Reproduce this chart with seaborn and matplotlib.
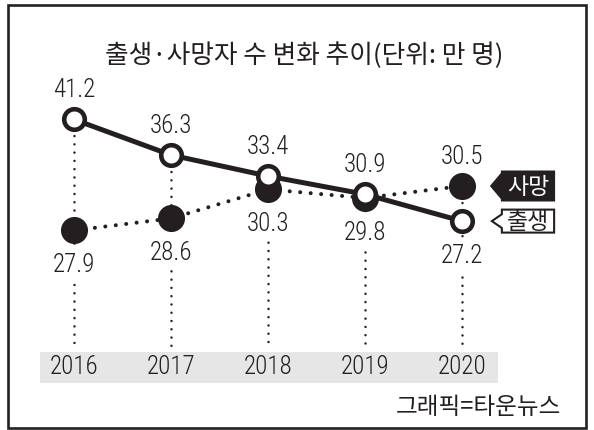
import matplotlib
matplotlib.use("Agg")
import matplotlib.pyplot as plt
import seaborn as sns
import pandas as pd
from matplotlib.path import Path
from matplotlib.patches import Rectangle
from matplotlib import font_manager as fm

# ---------------- data ----------------
years = [2016, 2017, 2018, 2019, 2020]
births = [41.2, 36.3, 33.4, 30.9, 27.2]   # 출생 (만 명)
deaths = [27.9, 28.6, 30.3, 29.8, 30.5]   # 사망 (만 명)
year_labels = ["2016", "2017", "2018", "2019", "2020"]
title = "출생·사망자 수 변화 추이(단위: 만 명)"
birth_name = "출생"
death_name = "사망"
credit = "그래픽=타운뉴스"

# ---------------- style ----------------
INK = "#231f20"
BAND = "#e6e6e6"
W, H = 594, 431
KR = ["Noto Sans CJK KR", "DejaVu Sans"]
names = {f.name for f in fm.fontManager.ttflist}
NUM = next((n for n in ["Liberation Sans Narrow", "Roboto Condensed", "Liberation Sans"]
            if n in names), "DejaVu Sans")
NUM_W = "light"

sns.set_style("white")
plt.rcParams["font.family"] = KR

df = pd.DataFrame({"year": years, "births": births, "deaths": deaths})

fig = plt.figure(figsize=(W / 100, H / 100), dpi=100)
ax = fig.add_axes([0, 0, 1, 1])      # deaths scale (drawn below)
ax2 = ax.twinx()                      # births scale (drawn above)

sns.lineplot(data=df, x="year", y="deaths", ax=ax, color=INK, lw=2.9,
             linestyle=(0, (0.01, 2.6)), dash_capstyle="round",
             marker="o", markersize=19.5, markerfacecolor=INK,
             markeredgewidth=0, markeredgecolor=INK, zorder=4, legend=False)
sns.lineplot(data=df, x="year", y="births", ax=ax2, color=INK, lw=3.6,
             marker="o", markersize=14.8, markerfacecolor="white",
             markeredgewidth=3.3, markeredgecolor=INK, zorder=4, legend=False)

ax.set_xlim(2015.237, 2021.361)
ax.set_ylim(16.20, 41.46)
ax2.set_ylim(-1.57, 57.79)
for a in (ax, ax2):
    a.axis("off")

# year band + labels
band_top, band_bot = 352.5, 383.5
ax.add_patch(Rectangle((40 / W, 1 - band_bot / H), (498 - 40) / W, (band_bot - band_top) / H,
                       transform=ax.transAxes, facecolor=BAND, edgecolor="none", zorder=0.5))
xt = ax.get_xaxis_transform()
for yr, lab in zip(years, year_labels):
    ax.text(yr, 1 - 367.5 / H, lab, transform=xt, ha="center", va="center",
            fontsize=18, family=NUM, fontweight=NUM_W, color=INK, zorder=3)

# vertical dotted guides from upper point to band
for yr, b, d in zip(years, births, deaths):
    yb = ax2.transData.transform((yr, b))[1]
    yd = ax.transData.transform((yr, d))[1]
    top = max(yb, yd) / H
    ax.plot([yr, yr], [top, 1 - 348 / H], transform=xt, color=INK, lw=1.8,
            linestyle=(0, (0.01, 3.3)), dash_capstyle="round", zorder=1)

# value labels
for yr, b, d in zip(years, births, deaths):
    yb = ax2.transData.transform((yr, b))[1]
    yd = ax.transData.transform((yr, d))[1]
    births_up = yb > yd
    for a, v, up in ((ax2, b, births_up), (ax, d, not births_up)):
        kw = dict(xy=(yr, v), textcoords="offset pixels", ha="center", va="center",
                  fontsize=18, family=NUM, fontweight=NUM_W, color=INK, zorder=6)
        if up:
            a.annotate(f"{v:.1f}", xytext=(0, 30), **kw)
        else:
            a.annotate(f"{v:.1f}", xytext=(0, -34),
                       bbox=dict(boxstyle="square,pad=0.2", fc="white", ec="none"), **kw)


def tag_style(padx, pady, tip, half):
    def style(x0, y0, width, height, mutation_size):
        x0 -= padx
        y0 -= pady
        width += 2 * padx
        height += 2 * pady
        ym = y0 + height / 2
        c = height * half
        verts = [(x0, y0), (x0 + width, y0), (x0 + width, y0 + height), (x0, y0 + height),
                 (x0, ym + c), (x0 - tip, ym), (x0, ym - c), (x0, y0)]
        codes = [Path.MOVETO] + [Path.LINETO] * 6 + [Path.CLOSEPOLY]
        return Path(verts, codes)
    return style


ax.annotate(death_name, xy=(years[-1], deaths[-1]), xytext=(66, 0), textcoords="offset pixels",
            ha="center", va="center", fontsize=16.5, color="white", zorder=7,
            bbox=dict(boxstyle=tag_style(6, 4, 11, 0.42), fc=INK, ec="none"))
ax2.annotate(birth_name, xy=(years[-1], births[-1]), xytext=(66, 0), textcoords="offset pixels",
             ha="center", va="center", fontsize=16.5, color=INK, zorder=7,
             bbox=dict(boxstyle=tag_style(5, 0, 10, 0.3), fc="white", ec=INK, lw=1.5))

# title, credit, frame
fig.text(304 / W, 1 - 56 / H, title, ha="center", va="center", fontsize=18.5,
         fontweight="light", color=INK)
fig.text(561 / W, 1 - 408 / H, credit, ha="right", va="center", fontsize=17,
         fontweight="light", color=INK)
fig.add_artist(Rectangle((7.8 / W, 1 - 429.3 / H), (586.2 - 7.8) / W, (429.3 - 5.7) / H,
                         transform=fig.transFigure, fill=False, edgecolor="#222222",
                         lw=1.9, zorder=20))

fig.savefig("out.png", dpi=100)
